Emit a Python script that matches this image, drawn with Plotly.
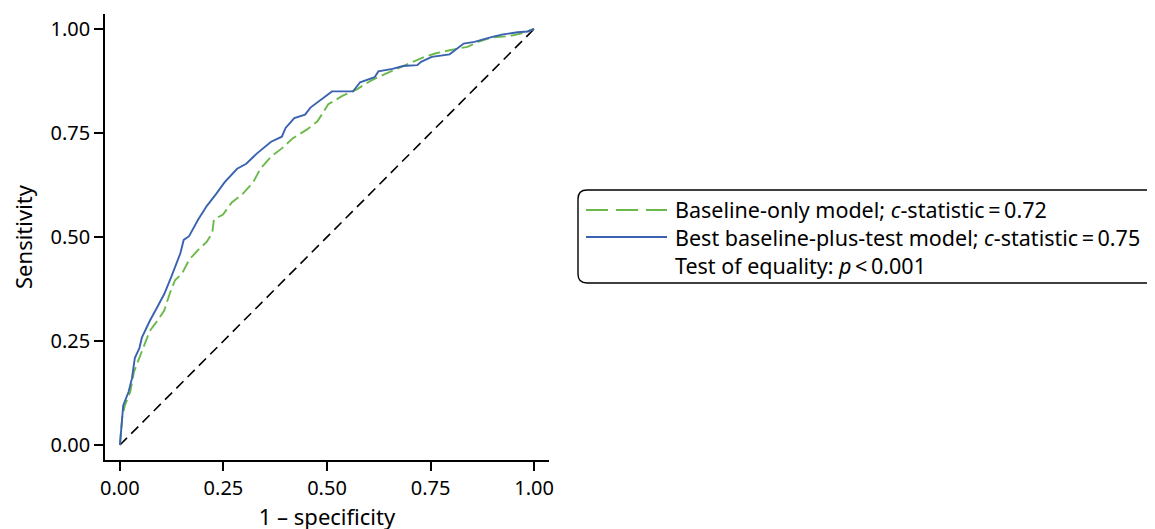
import plotly.graph_objects as go

# ROC curve points
base_fpr = [0, 0.006, 0.012, 0.025, 0.034, 0.047, 0.059, 0.072, 0.09, 0.107, 0.12, 0.133, 0.15, 0.167,
            0.189, 0.21, 0.223, 0.227, 0.249, 0.27, 0.296, 0.322, 0.339, 0.365, 0.391, 0.417, 0.451,
            0.477, 0.503, 0.537, 0.572, 0.606, 0.641, 0.667, 0.701, 0.736, 0.761, 0.796, 0.839, 0.865,
            0.899, 0.942, 0.968, 1.0]
base_tpr = [0, 0.071, 0.095, 0.128, 0.176, 0.209, 0.241, 0.274, 0.298, 0.323, 0.363, 0.396, 0.412, 0.445,
            0.469, 0.489, 0.51, 0.542, 0.554, 0.583, 0.603, 0.632, 0.664, 0.693, 0.713, 0.737, 0.758,
            0.778, 0.819, 0.839, 0.855, 0.876, 0.892, 0.904, 0.918, 0.933, 0.941, 0.949, 0.957, 0.969,
            0.98, 0.983, 0.989, 1.0]

best_fpr = [0, 0.008, 0.021, 0.029, 0.036, 0.047, 0.053, 0.072, 0.09, 0.107, 0.124, 0.137, 0.146, 0.154,
            0.167, 0.189, 0.21, 0.232, 0.253, 0.283, 0.305, 0.331, 0.365, 0.391, 0.4, 0.421, 0.447, 0.46,
            0.486, 0.512, 0.563, 0.58, 0.615, 0.624, 0.658, 0.684, 0.718, 0.727, 0.753, 0.796, 0.83,
            0.856, 0.899, 0.925, 0.96, 0.985, 1.0]
best_tpr = [0, 0.095, 0.128, 0.16, 0.209, 0.233, 0.258, 0.298, 0.331, 0.363, 0.404, 0.437, 0.461, 0.493,
            0.502, 0.542, 0.575, 0.603, 0.632, 0.664, 0.676, 0.701, 0.729, 0.741, 0.762, 0.786, 0.794,
            0.811, 0.831, 0.85, 0.85, 0.872, 0.884, 0.898, 0.904, 0.911, 0.913, 0.921, 0.933, 0.939,
            0.965, 0.969, 0.981, 0.987, 0.992, 0.994, 1.0]

ref_x = [0, 1]
ref_y = [0, 1]

tick_vals = [0, 0.25, 0.5, 0.75, 1.0]
tick_text = ["0.00", "0.25", "0.50", "0.75", "1.00"]

names = ["Baseline-only model; <i>c</i>-statistic\u2009=\u20090.72",
         "Best baseline-plus-test model; <i>c</i>-statistic\u2009=\u20090.75",
         "Test of equality: <i>p</i>\u2009<\u20090.001"]

GREEN = "#6cb94b"
BLUE = "#3b62b1"
FONT = "Noto Sans"

fig = go.Figure()
fig.add_trace(go.Scatter(x=ref_x, y=ref_y, mode="lines", showlegend=False,
                         line=dict(color="black", width=1.6, dash="10px,6px"), hoverinfo="skip"))
fig.add_trace(go.Scatter(x=base_fpr, y=base_tpr, mode="lines", name="Baseline-only model",
                         showlegend=False, line=dict(color=GREEN, width=1.9, dash="12px,5px")))
fig.add_trace(go.Scatter(x=best_fpr, y=best_tpr, mode="lines", name="Best baseline-plus-test model",
                         showlegend=False, line=dict(color=BLUE, width=1.9)))

axis_common = dict(range=[-0.036, 1.036], tickvals=tick_vals, ticktext=tick_text,
                   showline=True, linecolor="black", linewidth=1.6, ticks="outside",
                   ticklen=9, tickwidth=1.6, tickcolor="black", showgrid=False, zeroline=False,
                   tickfont=dict(family=FONT, size=20, color="black"))

fig.update_xaxes(**axis_common, title=dict(text="1 \u2013 specificity", standoff=9,
                                           font=dict(family=FONT, size=22, color="black")))
fig.update_yaxes(**axis_common, title=dict(text="Sensitivity", standoff=13,
                                           font=dict(family=FONT, size=22, color="black")))

# page body adds an 8px offset, so layout coordinates are reference pixels minus 8
L, R, T, B = 97, 541, 6, 452
def px(x):
    return (x - L) / (R - L)
def py(y):
    return (B - y) / (B - T)

# rounded legend box
x0, x1, y0, y1, r = 570, 1170, 182, 275, 9
path = (f"M {px(x0 + r)} {py(y0)} L {px(x1)} {py(y0)} L {px(x1)} {py(y1)} L {px(x0 + r)} {py(y1)} "
        f"Q {px(x0)} {py(y1)} {px(x0)} {py(y1 - r)} L {px(x0)} {py(y0 + r)} "
        f"Q {px(x0)} {py(y0)} {px(x0 + r)} {py(y0)} Z")
fig.add_shape(type="path", xref="paper", yref="paper", path=path,
              line=dict(color="black", width=1.4), fillcolor="rgba(0,0,0,0)")

# legend sample lines
fig.add_shape(type="line", xref="paper", yref="paper", x0=px(578), x1=px(659),
              y0=py(202), y1=py(202), line=dict(color=GREEN, width=1.9, dash="22px,8px"))
fig.add_shape(type="line", xref="paper", yref="paper", x0=px(578), x1=px(659),
              y0=py(229), y1=py(229), line=dict(color=BLUE, width=1.9))

# legend texts (one block so lines keep an even spacing)
fig.add_annotation(xref="paper", yref="paper", x=px(665), y=py(229), text="<br>".join(names),
                   xanchor="left", yanchor="middle", align="left", showarrow=False,
                   font=dict(family=FONT, size=21.5, color="black"))

fig.update_layout(
    width=1155, height=529,
    margin=dict(l=L, r=1155 - R, t=T, b=529 - B),
    paper_bgcolor="white", plot_bgcolor="white",
    showlegend=False,
)

fig.write_html("out.html")
